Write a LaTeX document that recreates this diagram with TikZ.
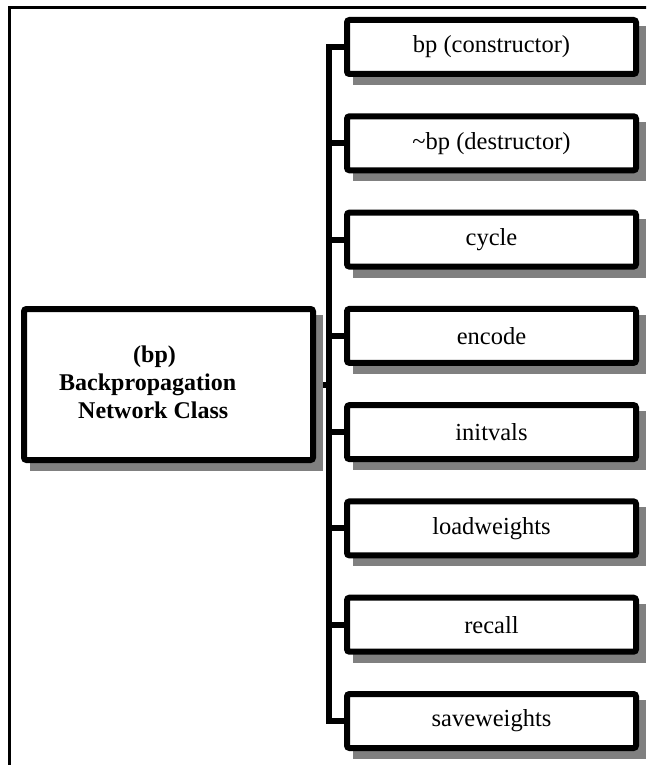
\documentclass[tikz,border=0pt]{standalone}
\usepackage{fontspec}
\setmainfont{Liberation Serif}
\usetikzlibrary{backgrounds}
\definecolor{shadowgray}{HTML}{808080}
\tikzset{
  member/.style={draw, line width=6pt, fill=white, rounded corners=2.5pt,
    minimum width=289pt, minimum height=54pt, inner sep=0pt,
    font=\fontsize{24.5}{28}\selectfont},
  classbox/.style={draw, line width=6pt, fill=white, rounded corners=2.5pt,
    minimum width=289pt, minimum height=151pt, inner sep=0pt},
  classtext/.style={anchor=base west, inner sep=0pt,
    font=\fontsize{24}{28}\selectfont\bfseries},
  conn/.style={line width=6pt, line cap=rect},
  frameline/.style={line width=3pt},
}
\newcommand{\boxshadow}[1]{%
  \fill[shadowgray] ([shift={(9pt,-9pt)}]#1.north west) rectangle ([shift={(7pt,-8pt)}]#1.south east);}
\begin{document}
\begin{tikzpicture}[x=1pt, y=-1pt]
  \useasboundingbox (0,0) rectangle (646,765);
  \clip (0,0) rectangle (646,765);

  % outer frame, open past the right and bottom edges
  \draw[frameline] (9.5,780) -- (9.5,8) -- (660,8);

  % class box and its caption
  \node[classbox] (main) at (168.5,384.5) {};
  \node[classtext] (t1) at (133,362) {(bp)};
  \node[classtext] (t2) at (59,390) {Backpropagation};
  \node[classtext] (t3) at (78,418) {Network Class};

  % member functions
  \node[member] (m1) at (491.5,47)   {bp (constructor)};
  \node[member] (m2) at (491.5,143.3) {\char"7E bp (destructor)};
  \node[member] (m3) at (491.5,239.6) {cycle};
  \node[member] (m4) at (491.5,335.9) {encode};
  \node[member] (m5) at (491.5,432.1) {initvals};
  \node[member] (m6) at (491.5,528.4) {loadweights};
  \node[member] (m7) at (491.5,624.7) {recall};
  \node[member] (m8) at (491.5,721)   {saveweights};

  % drop shadows behind every box
  \begin{scope}[on background layer]
    \foreach \b in {main,m1,m2,m3,m4,m5,m6,m7,m8} {\boxshadow{\b}}
  \end{scope}

  % tree connectors
  \coordinate (trunk) at (329,0);
  \draw[conn, line cap=butt] (m1.west) -| (m8.west -| trunk) -- (m8.west);
  \foreach \b in {m2,m3,m4,m5,m6,m7} {
    \draw[conn, line cap=butt] (\b.west -| trunk) -- (\b.west);
  }
  \draw[conn, line cap=butt] ([xshift=7pt]main.east) -- (main.east -| trunk);
\end{tikzpicture}
\end{document}
